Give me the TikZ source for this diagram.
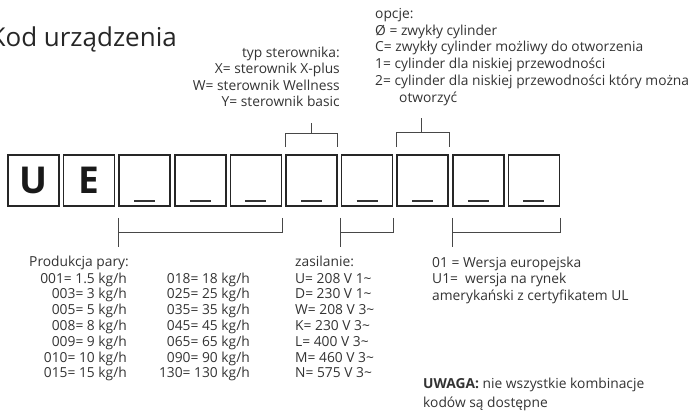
\documentclass[tikz,border=0pt]{standalone}
\usepackage{fontspec}
\setmainfont{Open Sans}
\begin{document}
\begin{tikzpicture}[x=1pt,y=-1pt,
  txt/.style={font=\fontsize{13.8}{16}\selectfont, text=black!80, inner sep=0pt},
  box/.style={draw=black!85, line width=1.6pt, minimum size=51pt, inner sep=0pt, font=\bfseries\fontsize{37}{37}\selectfont, text=black!90},
  brk/.style={draw=black!72, line width=0.9pt},
  uline/.style={draw=black!80, line width=2pt}]
\useasboundingbox (0,0) rectangle (699,416);
\clip (0,0) rectangle (699,416);
% title
\node[anchor=base east, inner sep=0pt, text=black!85, font=\fontsize{26}{30}\selectfont] (title) at (177,46.8) {Kod urządzenia};
% boxes
\foreach \i/\t in {0/U,1/E,2/,3/,4/,5/,6/,7/,8/,9/}{
  \node[box] (b\i) at ({33.5+55.6*\i},180.5) {\t};
}
\foreach \i in {2,...,9}{
  \draw[uline] ([xshift=-10.5pt,yshift=5.5pt]b\i.south) -- ([xshift=10.5pt,yshift=5.5pt]b\i.south);
}
% typ sterownika
\foreach \t [count=\k from 0] in {typ sterownika:, X= sterownik X-plus, W= sterownik Wellness, Y= sterownik basic}{
  \node[txt, anchor=base east] (typ\k) at (340,{57+16.6*\k}) {\t};
}
\coordinate (typtop) at (b5.center |- 0,123);
\draw[brk] ([yshift=7pt]b5.north west) |- ([yshift=21pt]b5.north) -| ([yshift=7pt]b5.north east);
\draw[brk] ([yshift=21pt]b5.north) -- (typtop);
% opcje
\foreach \t [count=\k from 0] in {opcje:, Ø = zwykły cylinder, C= zwykły cylinder możliwy do otworzenia, 1= cylinder dla niskiej przewodności, 2= cylinder dla niskiej przewodności który można}{
  \node[txt, anchor=base west] (op\k) at (375,{18.5+16.7*\k}) {\t};
}
\node[txt, anchor=base west] (op5) at (399,{18.5+16.7*5}) {otworzyć};
\coordinate (optop) at (421.7,118);
\draw[brk] ([yshift=7pt]b7.north west) |- ([yshift=22pt]b7.north) -| ([yshift=7pt]b7.north east);
\draw[brk] (optop) -- (optop |- 0,133);
% bottom brackets
\coordinate (prodtick) at (b2.south west |- 0,247);
\draw[brk] ([yshift=-11pt]b4.south east) |- (0,232 -| b2.south west);
\draw[brk] ([yshift=-11pt]b2.south west) -- (prodtick);
\coordinate (zastick) at (b6.south west |- 0,247);
\draw[brk] ([yshift=-11pt]b6.south east) |- (0,232 -| b6.south west);
\draw[brk] ([yshift=-11pt]b6.south west) -- (zastick);
\coordinate (wertick) at (b8.south west |- 0,247);
\draw[brk] ([yshift=-11pt]b9.south east) |- (0,232 -| b8.south west);
\draw[brk] ([yshift=-11pt]b8.south west) -- (wertick);
% produkcja
\node[txt, anchor=base west] (prod) at (29,266.7) {Produkcja pary:};
\foreach \t [count=\k from 0] in {001= 1.5 kg/h, 003= 3 kg/h, 005= 5 kg/h, 008= 8 kg/h, 009= 9 kg/h, 010= 10 kg/h, 015= 15 kg/h}{
  \node[txt, anchor=base east] (pa\k) at (127,{283+15.8*\k}) {\t};
}
\foreach \t [count=\k from 0] in {018= 18 kg/h, 025= 25 kg/h, 035= 35 kg/h, 045= 45 kg/h, 065= 65 kg/h, 090= 90 kg/h, 130= 130 kg/h}{
  \node[txt, anchor=base east] (pb\k) at (250,{283+15.8*\k}) {\t};
}
% zasilanie
\node[txt, anchor=base west] (zas) at (295,266.7) {zasilanie:};
\foreach \t [count=\k from 0] in {U= 208 V 1\textasciitilde, D= 230 V 1\textasciitilde, W= 208 V 3\textasciitilde, K= 230 V 3\textasciitilde, L= 400 V 3\textasciitilde, M= 460 V 3\textasciitilde, N= 575 V 3\textasciitilde}{
  \node[txt, anchor=base west] (za\k) at (295,{283+15.8*\k}) {\t};
}
% wersja
\foreach \t [count=\k from 0] in {01 = Wersja europejska, U1=~ wersja na rynek, amerykański z certyfikatem UL}{
  \node[txt, anchor=base west] (we\k) at (432,{267+16.7*\k}) {\t};
}
% uwaga
\node[txt, anchor=base west] (uw0) at (423,388.5) {\textbf{UWAGA:} nie wszystkie kombinacje};
\node[txt, anchor=base west] (uw1) at (423,407) {kodów są dostępne};
\end{tikzpicture}
\end{document}
